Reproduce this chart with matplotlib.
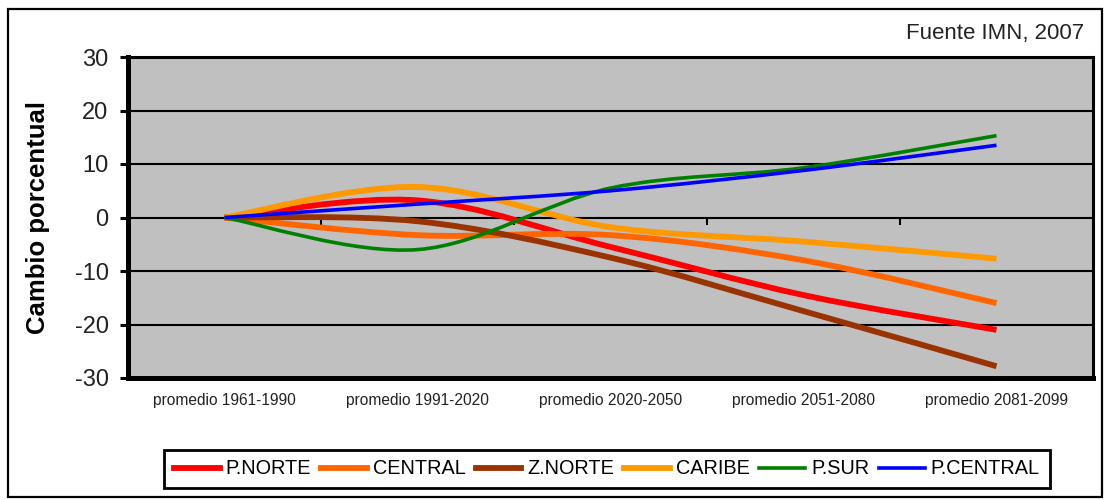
import numpy as np
import matplotlib
matplotlib.use("Agg")
import matplotlib.pyplot as plt
from matplotlib.path import Path
from matplotlib.patches import PathPatch, Rectangle
from matplotlib.lines import Line2D

# datos (cambio porcentual por region)
periodos = ["promedio 1961-1990", "promedio 1991-2020", "promedio 2020-2050",
            "promedio 2051-2080", "promedio 2081-2099"]
p_norte = [0, 3.2, -5.5, -14.5, -21.0]
central = [0, -3.3, -3.3, -8.0, -16.0]
z_norte = [0, -0.7, -7.5, -17.5, -27.8]
caribe = [0, 5.7, -1.8, -4.5, -7.7]
p_sur = [0, -6.0, 5.5, 9.3, 15.3]
p_central = [0, 2.5, 5.0, 8.8, 13.5]

series = [
    ("P.NORTE", p_norte, "#FF0000", 4.2),
    ("CENTRAL", central, "#FF6600", 4.2),
    ("Z.NORTE", z_norte, "#993300", 4.2),
    ("CARIBE", caribe, "#FF9900", 4.2),
    ("P.SUR", p_sur, "#008000", 2.6),
    ("P.CENTRAL", p_central, "#0000FF", 2.6),
]

plt.rcParams["font.family"] = ["Liberation Sans", "DejaVu Sans"]
plt.rcParams["axes.unicode_minus"] = False


def linea_suave(x, y):
    # curva suavizada tipo Excel (Catmull-Rom como Bezier)
    pts = np.column_stack([x, y]).astype(float)
    n = len(pts)
    verts = [pts[0]]
    codes = [Path.MOVETO]
    for i in range(n - 1):
        p0 = pts[max(i - 1, 0)]
        p1 = pts[i]
        p2 = pts[i + 1]
        p3 = pts[min(i + 2, n - 1)]
        verts += [p1 + (p2 - p0) / 6, p2 - (p3 - p1) / 6, p2]
        codes += [Path.CURVE4] * 3
    return Path(verts, codes)


fig = plt.figure(figsize=(11.05, 5.0), dpi=100)
ax = fig.add_axes([128 / 1105, 1 - 378 / 500, 965 / 1105, 321 / 500])
ax.set_facecolor("#C0C0C0")

x = np.arange(len(periodos))
handles = []
for nombre, valores, color, lw in series:
    ax.add_patch(PathPatch(linea_suave(x, valores), fill=False, edgecolor=color,
                           lw=lw, capstyle="butt", zorder=3))
    handles.append(Line2D([], [], color=color, lw=lw, label=nombre))

ax.set_xlim(-0.5, len(periodos) - 0.5)
ax.set_ylim(-30, 30)
ax.set_yticks([-30, -20, -10, 0, 10, 20, 30])
ax.set_xticks(x)
ax.set_xticklabels(periodos, fontsize=11.2, color="#222222")
ax.tick_params(axis="x", length=0, pad=11)
ax.tick_params(axis="y", length=6, width=2.2, pad=8, labelsize=17, labelcolor="#222222")

# lineas horizontales de la cuadricula
for v in [-20, -10, 0, 10, 20]:
    ax.axhline(v, color="black", lw=1.5, zorder=1)

# marcas del eje de categorias sobre la linea cero
limites = x[:-1] + 0.5
ax.plot(limites, np.zeros_like(limites), ls="none", marker=3, ms=5, mew=1.5,
        color="black", zorder=2)

ax.spines["left"].set_linewidth(3.6)
ax.spines["bottom"].set_linewidth(3.6)
ax.spines["top"].set_linewidth(2.2)
ax.spines["right"].set_linewidth(2.2)

ax.set_ylabel("Cambio porcentual", fontweight="bold", fontsize=18.5)
ax.yaxis.set_label_coords(-0.081, 0.5)

fig.text(1084 / 1105, 1 - 33 / 500, "Fuente IMN, 2007",
         fontsize=16, ha="right", va="center", color="#222222")

leg = fig.legend(handles=handles, loc="center", bbox_to_anchor=(607 / 1105, 1 - 469 / 500),
                 ncol=6, frameon=True, fancybox=False, edgecolor="black", framealpha=1,
                 prop={"size": 14.3}, handlelength=2.3,
                 handletextpad=0.3, columnspacing=0.5, borderpad=0.5)
leg.get_frame().set_linewidth(2)

# marco exterior del grafico
fig.patches.append(Rectangle((8 / 1105, 3 / 500), 1094 / 1105, 488 / 500,
                             transform=fig.transFigure, fill=False,
                             edgecolor="black", lw=1.6))

fig.savefig("out.png", dpi=100)
